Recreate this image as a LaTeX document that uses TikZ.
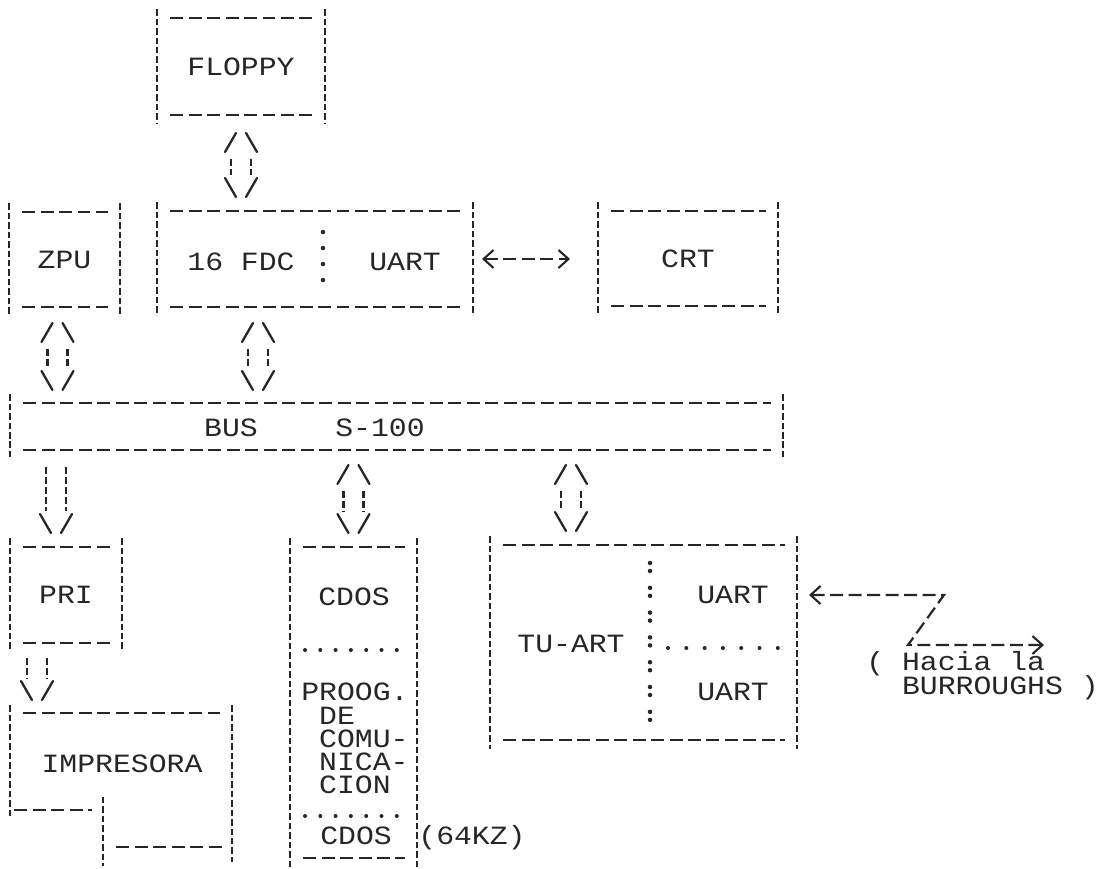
\documentclass[tikz,border=0pt]{standalone}
\usepackage{fontspec}
\usetikzlibrary{arrows.meta}
\newfontfamily\dotmatrix[FakeStretch=1.13]{Liberation Mono}
\definecolor{printInk}{HTML}{262626}
\tikzset{
    abox/.style={rectangle, inner sep=0pt, outer sep=0pt, text=printInk, font=\dotmatrix\fontsize{15}{16}\selectfont},
    atext/.style={inner sep=0pt, text=printInk, font=\dotmatrix\fontsize{15}{16}\selectfont},
    hdash/.style={draw=printInk, line width=1.25pt, dash pattern=on 0.26cm off 0.11cm},
    vdash/.style={draw=printInk, line width=1.2pt, dash pattern=on 0.13cm off 0.06cm},
    arail/.style={draw=printInk, line width=1.3pt, dash pattern=on 0.14cm off 0.06cm},
    ahead/.style={draw=printInk, line width=1.3pt, line cap=round},
    alink/.style={hdash, {Straight Barb[length=0.2cm, width=0.36cm, line width=1.2pt]}-{Straight Barb[length=0.2cm, width=0.36cm, line width=1.2pt]}},
    adot/.style={fill=printInk}
}
\newcommand{\boxedges}[1]{%
    \draw[hdash] ([shift={(13,0)}]#1.north west) -- ([shift={(-12,0)}]#1.north east);
    \draw[hdash] ([shift={(13,0)}]#1.south west) -- ([shift={(-12,0)}]#1.south east);
    \draw[vdash] ([shift={(0,-9)}]#1.north west) -- ([shift={(0,9)}]#1.south west);
    \draw[vdash] ([shift={(0,-9)}]#1.north east) -- ([shift={(0,9)}]#1.south east);}
\newcommand{\headup}[1]{%
    \draw[ahead] ([shift={(-16,19)}]#1) -- ([shift={(-5,0)}]#1);
    \draw[ahead] ([shift={(5,0)}]#1) -- ([shift={(16,19)}]#1);}
\newcommand{\headdown}[1]{%
    \draw[ahead] ([shift={(-16,-19)}]#1) -- ([shift={(-5,0)}]#1);
    \draw[ahead] ([shift={(5,0)}]#1) -- ([shift={(16,-19)}]#1);}
\newcommand{\railsfrom}[3]{%
    \draw[arail] ([shift={(-10,#3)}]#1) -- ([shift={(-10,-22)}]#2);
    \draw[arail] ([shift={(10,#3)}]#1) -- ([shift={(10,-22)}]#2);}
\newcommand{\twoway}[2]{\headup{#1}\railsfrom{#1}{#2}{26}\headdown{#2}}
\newcommand{\oneway}[2]{\railsfrom{#1}{#2}{0}\headdown{#2}}

\begin{document}
\begin{tikzpicture}[x=0.02cm, y=-0.02cm]
            \useasboundingbox (0,0) rectangle (1101,868);
            \node[abox, minimum width=3.36cm, minimum height=1.94cm] (floppy) at (241,66.5) {FLOPPY};
            \node[abox, minimum width=2.22cm, minimum height=1.9cm] (zpu) at (64.5,259.5) {ZPU};
            \node[abox, minimum width=6.32cm, minimum height=1.92cm] (fdc) at (315,259) {};
            \node[abox, minimum width=3.6cm, minimum height=1.9cm] (crt) at (688,258.5) {CRT};
            \node[abox, minimum width=15.46cm, minimum height=0.94cm] (bus) at (396.5,426.5) {};
            \node[abox, minimum width=2.24cm, minimum height=1.92cm] (pri) at (66,595) {PRI};
            \node[abox, minimum width=2.54cm, minimum height=6.22cm] (cdos) at (353.5,702.5) {};
            \node[abox, minimum width=6.14cm, minimum height=3.9cm] (tuart) at (643.5,642.5) {};
            \node[abox, minimum width=4.44cm, minimum height=2.68cm] (imp) at (121,780) {};
            \foreach \b in {floppy,zpu,fdc,crt,bus,pri,cdos,tuart}{
                \boxedges{\b}
            }
            \draw[hdash] ([shift={(13,0)}]imp.north west) -- ([shift={(-12,0)}]imp.north east);
            \draw[vdash] ([shift={(0,-8)}]imp.north west) -- ([shift={(0,-29)}]imp.south west);
            \draw[hdash] ([shift={(4,-37)}]imp.south west) -- ([shift={(82,-37)}]imp.south west);
            \draw[vdash] ([shift={(93,-50)}]imp.south west) -- ([shift={(93,19)}]imp.south west);
            \draw[hdash] ([shift={(106,0)}]imp.south west) -- ([shift={(-10,0)}]imp.south east);
            \draw[vdash] ([shift={(0,-8)}]imp.north east) -- ([shift={(0,15)}]imp.south east);

            \node[atext] (fdcname) at (241,262) {16 FDC};
            \node[atext] (fdcuart) at (405,262) {UART};
            \node[atext] (busname) at (231,428) {BUS};
            \node[atext] (busnum) at (380,428) {S-100};
            \node[atext] (cdostop) at (354,597) {CDOS};
            \node[atext, align=left, anchor=north west, font=\dotmatrix\fontsize{15}{13.1}\selectfont] (prog) at (301,683)
                {PROOG.\\\hphantom{P}DE\\\hphantom{P}COMU-\\\hphantom{P}NICA-\\\hphantom{P}CION};
            \node[atext] (cdosbot) at (356,836) {CDOS};
            \node[atext] (memsize) at (472,838) {(64KZ)};
            \node[atext] (tuname) at (571,644) {TU-ART};
            \node[atext] (uarttop) at (733,595) {UART};
            \node[atext] (uartbot) at (733,692) {UART};
            \node[atext] (imptext) at (122,764) {IMPRESORA};
            \node[atext, anchor=west] (hacia) at (866,664) {(~Hacia~la};
            \node[atext, anchor=west] (burroughs) at (866,688) {~~BURROUGHS~)};

            \foreach \y in {232,248,264,280}
                \fill[adot] (323,\y) circle (0.045cm);
            \foreach \r in {0,...,6}{
                \fill[adot] (650,{563+24.8*\r}) circle (0.045cm);
                \fill[adot] (650,{571+24.8*\r}) circle (0.045cm);
            }
            \foreach \i in {0,...,6}{
                \fill[adot] ({305+15.3*\i},650) circle (0.04cm);
                \fill[adot] ({305+15.3*\i},816) circle (0.04cm);
                \fill[adot] ({668+18.3*\i},648) circle (0.04cm);
            }

            \path (floppy.south) ++(0,18) coordinate (fl-a);
            \path (floppy.south |- fdc.north) ++(0,-14) coordinate (fl-b);
            \twoway{fl-a}{fl-b}
            \path (zpu.south) ++(-7,16) coordinate (zp-a);
            \path (zp-a |- bus.north) ++(0,-13) coordinate (zp-b);
            \twoway{zp-a}{zp-b}
            \path (fdc.south) ++(-57,16) coordinate (fd-a);
            \path (fd-a |- bus.north) ++(0,-13) coordinate (fd-b);
            \twoway{fd-a}{fd-b}
            \path (cdos.north |- bus.south) ++(0,15) coordinate (cd-a);
            \path (cdos.north) ++(0,-14) coordinate (cd-b);
            \twoway{cd-a}{cd-b}
            \path (tuname |- bus.south) ++(0,15) coordinate (tu-a);
            \path (tuname |- tuart.north) ++(0,-14) coordinate (tu-b);
            \twoway{tu-a}{tu-b}
            \path (pri.north |- bus.south) ++(-10,17) coordinate (pr-a);
            \path (pri.north) ++(-10,-14) coordinate (pr-b);
            \oneway{pr-a}{pr-b}
            \path (pri.south) ++(-29,15) coordinate (im-a);
            \path (im-a |- imp.north) ++(0,-13) coordinate (im-b);
            \oneway{im-a}{im-b}

            \draw[alink, shorten <=0.18cm, shorten >=0.56cm] (fdc.east) -- (fdc.east -| crt.west);
            \coordinate (bend-a) at (944,595);
            \coordinate (bend-b) at (908,645);
            \coordinate (toburr) at (1044,645);
            \draw[alink, shorten <=0.24cm] (uarttop -| tuart.east) -- (bend-a) -- (bend-b) -- (toburr);
        \end{tikzpicture}
\end{document}
